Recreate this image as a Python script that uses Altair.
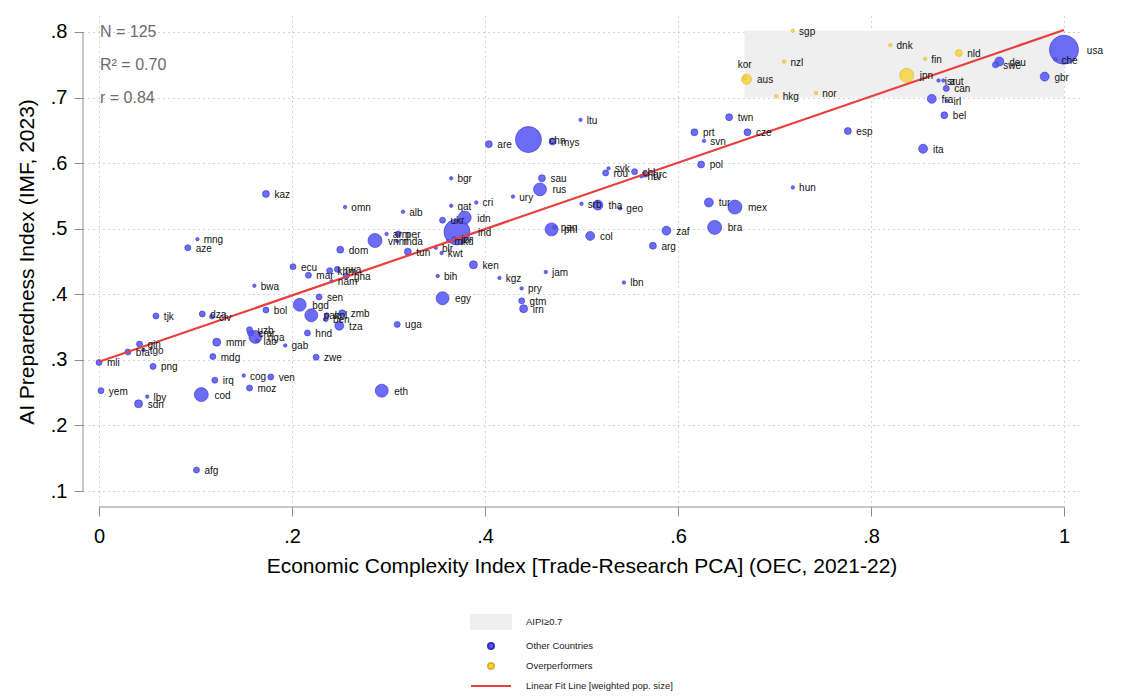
import altair as alt
import numpy as np
import pandas as pd

# ---- country data: ISO3 code, economic complexity (x), AI preparedness (y), marker weight
codes = [
    "usa", "che", "deu", "swe", "gbr", "isr", "aut", "can", "fra", "irl",
    "bel", "ita", "esp", "hun", "twn", "prt", "svn", "cze", "pol", "tur",
    "mex", "bra", "zaf", "arg", "lbn", "col", "pan", "phl", "geo", "tha",
    "srb", "svk", "rou", "chl", "grc", "hrv", "sau", "rus", "ury", "ltu",
    "mys", "chn", "are", "bgr", "omn", "alb", "qat", "cri", "idn", "ukr",
    "ind", "jor", "mkd", "blr", "kwt", "tun", "dom", "vnm", "arm", "per",
    "mda", "ecu", "kaz", "mng", "aze", "mar", "khm", "rwa", "nam", "gha",
    "bwa", "sen", "bol", "bgd", "pak", "npl", "ben", "zmb", "tza", "hnd",
    "gab", "zwe", "dza", "civ", "uzb", "cmr", "nga", "lao", "mmr", "mdg",
    "tjk", "mli", "bfa", "gin", "tgo", "png", "yem", "lby", "sdn", "cod",
    "irq", "cog", "ven", "moz", "afg", "eth", "uga", "egy", "ken", "bih",
    "kgz", "jam", "pry", "gtm", "irn",
    "sgp", "dnk", "nzl", "kor", "aus", "hkg", "nor", "fin", "nld", "jpn",
]
eci = [
    1.000, 0.991, 0.933, 0.929, 0.980, 0.870, 0.875, 0.878, 0.863, 0.879,
    0.876, 0.854, 0.776, 0.719, 0.653, 0.617, 0.627, 0.672, 0.624, 0.632,
    0.659, 0.638, 0.588, 0.574, 0.544, 0.509, 0.472, 0.469, 0.540, 0.517,
    0.500, 0.528, 0.525, 0.555, 0.566, 0.562, 0.459, 0.457, 0.429, 0.499,
    0.470, 0.445, 0.404, 0.365, 0.255, 0.315, 0.365, 0.391, 0.379, 0.356,
    0.371, 0.368, 0.362, 0.349, 0.355, 0.320, 0.250, 0.286, 0.298, 0.310,
    0.309, 0.201, 0.173, 0.102, 0.092, 0.217, 0.239, 0.247, 0.241, 0.256,
    0.161, 0.228, 0.173, 0.208, 0.220, 0.236, 0.235, 0.252, 0.249, 0.216,
    0.193, 0.225, 0.107, 0.117, 0.156, 0.157, 0.162, 0.164, 0.122, 0.118,
    0.059, 0.000, 0.030, 0.042, 0.046, 0.056, 0.002, 0.050, 0.041, 0.106,
    0.120, 0.150, 0.178, 0.156, 0.101, 0.293, 0.309, 0.356, 0.388, 0.351,
    0.415, 0.463, 0.438, 0.438, 0.440,
    0.719, 0.820, 0.710, 0.669, 0.671, 0.702, 0.743, 0.856, 0.891, 0.837,
]
aipi = [
    0.773, 0.758, 0.755, 0.750, 0.732, 0.726, 0.726, 0.714, 0.698, 0.695,
    0.673, 0.622, 0.649, 0.563, 0.670, 0.647, 0.634, 0.647, 0.598, 0.540,
    0.533, 0.502, 0.497, 0.474, 0.418, 0.489, 0.502, 0.499, 0.531, 0.536,
    0.538, 0.592, 0.585, 0.587, 0.583, 0.580, 0.577, 0.560, 0.549, 0.666,
    0.633, 0.636, 0.629, 0.577, 0.533, 0.526, 0.535, 0.540, 0.517, 0.513,
    0.495, 0.484, 0.481, 0.471, 0.463, 0.465, 0.468, 0.482, 0.492, 0.492,
    0.481, 0.442, 0.553, 0.484, 0.471, 0.429, 0.436, 0.438, 0.420, 0.428,
    0.413, 0.396, 0.376, 0.384, 0.368, 0.368, 0.362, 0.371, 0.352, 0.341,
    0.322, 0.304, 0.370, 0.366, 0.346, 0.341, 0.335, 0.329, 0.327, 0.305,
    0.367, 0.296, 0.312, 0.324, 0.315, 0.290, 0.253, 0.244, 0.233, 0.247,
    0.269, 0.276, 0.274, 0.257, 0.132, 0.253, 0.354, 0.394, 0.445, 0.428,
    0.425, 0.434, 0.409, 0.390, 0.378,
    0.802, 0.780, 0.755, 0.730, 0.728, 0.702, 0.707, 0.759, 0.768, 0.734,
]
marker_weight = [
    210, 3, 20, 9, 20, 3, 3, 9, 20, 3,
    12, 20, 12, 3, 12, 12, 3, 12, 12, 20,
    49, 49, 20, 12, 3, 20, 3, 42, 3, 25,
    3, 3, 9, 9, 9, 3, 12, 42, 3, 3,
    12, 169, 12, 3, 3, 3, 3, 3, 42, 9,
    169, 6, 3, 3, 3, 12, 12, 49, 3, 9,
    3, 9, 12, 3, 9, 9, 9, 9, 3, 9,
    3, 9, 9, 42, 42, 6, 6, 12, 20, 9,
    3, 9, 9, 6, 9, 9, 42, 3, 16, 9,
    9, 9, 9, 9, 3, 9, 9, 3, 16, 49,
    9, 3, 9, 9, 9, 42, 9, 42, 16, 3,
    3, 3, 3, 9, 16,
    3, 3, 3, 3, 25, 3, 3, 3, 12, 49,
]
overperformers = ["sgp", "dnk", "nzl", "kor", "aus", "hkg", "nor", "fin", "nld", "jpn"]

# weighted linear fit, evaluated at both ends of the x range
fit_x = [0.0, 1.0]
fit_y = [0.297, 0.803]

stats_text = ["N = 125", "R\u00b2 = 0.70", "r = 0.84"]
stats_y = [0.80, 0.75, 0.70]

x_ticks = [0, 0.2, 0.4, 0.6, 0.8, 1]
y_ticks = [0.1, 0.2, 0.3, 0.4, 0.5, 0.6, 0.7, 0.8]
AIPI_CUTOFF = 0.7

legend_items = ["AIPI\u22650.7", "Other Countries", "Overperformers",
                "Linear Fit Line [weighted pop. size]"]

# ---- styling
FONT = "Liberation Sans"
BLUE, BLUE_EDGE = "#5c5cf5", "#3030c8"
YELLOW, YELLOW_EDGE = "#f6d548", "#e0b42a"
RED = "#e8403e"
REGION_GRAY = "#efefef"
GRID = "#a8a8a8"
AXIS_GRAY = "#8c8c8c"
STATS_GRAY = "#6b6b6b"

PLOT_W, PLOT_H = 997, 491
X_DOMAIN = [-0.0166, 1.0166]
Y_DOMAIN = [0.0756, 0.8244]
PX_PER_X = PLOT_W / (X_DOMAIN[1] - X_DOMAIN[0])

df = pd.DataFrame({"code": codes, "eci": eci, "aipi": aipi, "weight": marker_weight})
df["group"] = np.where(df["code"].isin(overperformers), "Overperformers", "Other Countries")
df = df.sort_values("weight", ascending=False).reset_index(drop=True)

# Stata-style tick labels: 0, .2, .4 ... 1
tick_fmt = ("datum.value < 0.001 ? '0' : datum.value > 0.999 ? '1' : "
            "'.' + round(datum.value * 10)")

xscale = alt.Scale(domain=X_DOMAIN, nice=False, zero=False)
yscale = alt.Scale(domain=Y_DOMAIN, nice=False, zero=False)

x_axis = alt.Axis(values=x_ticks, labelExpr=tick_fmt, labelPadding=10, titlePadding=9)
y_axis = alt.Axis(values=y_ticks, labelExpr=tick_fmt, labelPadding=7, titlePadding=13)

X_TITLE = "Economic Complexity Index [Trade-Research PCA] (OEC, 2021-22)"
Y_TITLE = "AI Preparedness Index (IMF, 2023)"


def xq(field):
    return alt.X(field, scale=xscale, axis=x_axis, title=X_TITLE)


def yq(field):
    return alt.Y(field, scale=yscale, axis=y_axis, title=Y_TITLE)


# shaded region covering countries at or above the AIPI cutoff
region = (
    alt.Chart(df)
    .transform_filter(alt.datum.aipi >= AIPI_CUTOFF)
    .transform_aggregate(x0="min(eci)", x1="max(eci)", y1="max(aipi)")
    .transform_calculate(y0=str(AIPI_CUTOFF))
    .mark_rect(color=REGION_GRAY)
    .encode(x=xq("x0:Q"), x2="x1:Q", y=yq("y0:Q"), y2="y1:Q")
)

points = (
    alt.Chart(df)
    .mark_circle(strokeWidth=0.6, fillOpacity=0.9, opacity=1)
    .encode(
        x=xq("eci:Q"),
        y=yq("aipi:Q"),
        size=alt.Size("weight:Q", scale=alt.Scale(domain=[0, 210], range=[0, 840]), legend=None),
        fill=alt.condition(alt.datum.group == "Overperformers", alt.value(YELLOW), alt.value(BLUE)),
        stroke=alt.condition(alt.datum.group == "Overperformers", alt.value(YELLOW_EDGE), alt.value(BLUE_EDGE)),
    )
)

fit = (
    alt.Chart(pd.DataFrame({"x": fit_x, "y": fit_y}))
    .mark_line(color=RED, strokeWidth=2.2)
    .encode(x=xq("x:Q"), y=yq("y:Q"))
)

# country codes to the right of each marker, clear of the marker's radius
labels = (
    alt.Chart(df)
    .transform_filter(alt.datum.code != "kor")
    .transform_calculate(lx=f"datum.eci + (4 + 1.3 * sqrt(datum.weight)) / {PX_PER_X:.3f}")
    .mark_text(align="left", baseline="middle", dy=1, font=FONT, fontSize=10, color="#111111")
    .encode(x=xq("lx:Q"), y=yq("aipi:Q"), text="code:N")
)

# one label sits above its marker
label_above = (
    alt.Chart(df)
    .transform_filter(alt.datum.code == "kor")
    .mark_text(align="center", baseline="middle", dy=-13, font=FONT, fontSize=10, color="#111111")
    .encode(x=xq("eci:Q"), y=yq("aipi:Q"), text="code:N")
)

stats = (
    alt.Chart(pd.DataFrame({"t": stats_text, "y": stats_y, "x": [0.0] * len(stats_text)}))
    .mark_text(align="left", baseline="middle", dx=1, font=FONT, fontSize=16, color=STATS_GRAY)
    .encode(x=xq("x:Q"), y=yq("y:Q"), text="t:N")
)

# axis lines spanning only the labelled tick range
y_line = (
    alt.Chart(pd.DataFrame({"lo": [min(y_ticks)], "hi": [max(y_ticks)]}))
    .mark_rule(color=AXIS_GRAY, strokeWidth=1)
    .encode(x=alt.value(0), y=yq("lo:Q"), y2="hi:Q")
)
x_line = (
    alt.Chart(pd.DataFrame({"lo": [min(x_ticks)], "hi": [max(x_ticks)]}))
    .mark_rule(color=AXIS_GRAY, strokeWidth=1)
    .encode(y=alt.value(PLOT_H), x=xq("lo:Q"), x2="hi:Q")
)

# legend keys: wide box, two dots, a line
circle_path = "M0.3,0A0.3,0.3 0 1,1 -0.3,0A0.3,0.3 0 1,1 0.3,0Z"
legend_shapes = ["M-2,-0.7H2V0.7H-2Z", circle_path, circle_path, "M-2,0H2"]
legend_fills = [REGION_GRAY, BLUE, YELLOW, RED]
legend_strokes = [REGION_GRAY, BLUE_EDGE, YELLOW_EDGE, RED]
legend_cfg = dict(
    title=None, orient="none", legendX=397, legendY=595, symbolSize=400,
    symbolStrokeWidth=2, labelFont=FONT, labelFontSize=9.5, labelColor="#222222",
    labelOffset=24, rowPadding=2, padding=0, symbolOpacity=1,
)
legend_layer = (
    alt.Chart(pd.DataFrame({"item": legend_items}))
    .mark_point(filled=True, clip=True, opacity=1)
    .encode(
        x=alt.value(-200),
        y=alt.value(-200),
        fill=alt.Fill("item:N", scale=alt.Scale(domain=legend_items, range=legend_fills),
                      legend=alt.Legend(**legend_cfg)),
        stroke=alt.Stroke("item:N", scale=alt.Scale(domain=legend_items, range=legend_strokes),
                          legend=alt.Legend(**legend_cfg)),
        shape=alt.Shape("item:N", scale=alt.Scale(domain=legend_items, range=legend_shapes),
                        legend=alt.Legend(**legend_cfg)),
    )
)

chart = (
    alt.layer(region, points, fit, labels, label_above, stats, y_line, x_line, legend_layer)
    .properties(
        width=PLOT_W,
        height=PLOT_H,
        autosize=alt.AutoSizeParams(type="none"),
        padding={"left": 83, "top": 16, "right": 42, "bottom": 193},
        background="white",
    )
    .configure_view(stroke=None)
    .configure_axis(
        domain=False, tickSize=9, tickColor=AXIS_GRAY, tickWidth=1,
        labelFont=FONT, labelFontSize=20, labelColor="#000000",
        grid=True, gridColor=GRID, gridDash=[1, 4], gridWidth=1,
        titleFont=FONT, titleFontSize=21, titleFontWeight="normal", titleColor="#000000",
    )
)

chart.save("out.html", embed_options={"renderer": "svg", "actions": False})
